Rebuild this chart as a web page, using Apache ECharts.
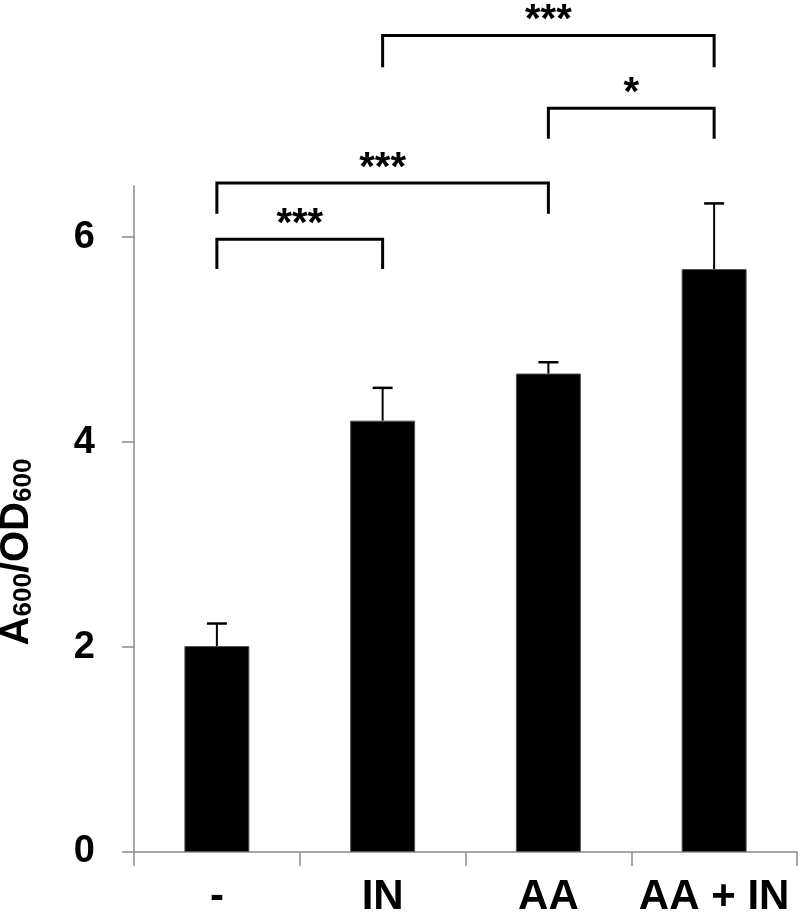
<!DOCTYPE html>
<html>
<head>
<meta charset="utf-8">
<script src="https://cdn.jsdelivr.net/npm/echarts@6/dist/echarts.min.js"></script>
<style>
html,body{margin:0;padding:0;background:#fff;}
#chart{width:800px;height:915px;}
</style>
</head>
<body>
<div id="chart"></div>
<script>
// ---- data ----
const categories = ['-', 'IN', 'AA', 'AA + IN'];
const means = [2.01, 4.21, 4.67, 5.69];
const errors = [0.22, 0.32, 0.11, 0.64];
const yTicks = [0, 2, 4, 6];
// significance brackets: [fromIndex, toIndex, lineValue, legValue]
const bracketFrom = [0, 0, 2, 1];
const bracketTo = [1, 2, 3, 3];
const bracketTop = [5.98, 6.53, 7.26, 7.97];
const bracketLeg = [5.69, 6.23, 6.96, 7.66];
const bracketLabels = ['***', '***', '*', '***'];

const FONT = '"Liberation Sans", Arial, sans-serif';
const chart = echarts.init(document.getElementById('chart'), null, {renderer: 'canvas'});

const errData = means.map((m, i) => [i, m, errors[i]]);
const bracketData = bracketFrom.map((f, i) => [f, bracketTo[i], bracketTop[i], bracketLeg[i]]);

chart.setOption({
  animation: false,
  backgroundColor: '#fff',
  grid: {left: 134, right: 3, top: 186, bottom: 63, containLabel: false, outerBoundsMode: 'none'},
  xAxis: {
    type: 'category',
    data: categories,
    boundaryGap: true,
    axisLine: {lineStyle: {color: '#8a8a8a', width: 1.5}},
    axisTick: {show: true, length: 14, alignWithLabel: false, lineStyle: {color: '#8a8a8a', width: 1.5}},
    axisLabel: {color: '#000', fontSize: 42, fontWeight: 'bold', fontFamily: FONT, margin: 24, interval: 0}
  },
  yAxis: {
    type: 'value',
    min: 0, max: 6.5, interval: 2,
    name: '{a|A}{s|600}{a|/OD}{s|600}',
    nameLocation: 'middle',
    nameRotate: 90,
    nameGap: 97,
    nameTextStyle: {
      padding: [0, 66, 0, 0],
      rich: {
        a: {fontSize: 40, fontWeight: 'bold', fontFamily: FONT, color: '#000', lineHeight: 42, verticalAlign: 'bottom'},
        s: {fontSize: 26, fontWeight: 'bold', fontFamily: FONT, color: '#000', lineHeight: 12, verticalAlign: 'bottom'}
      }
    },
    splitLine: {show: false},
    axisLine: {show: true, lineStyle: {color: '#8a8a8a', width: 1.5}},
    axisTick: {show: true, length: 12, customValues: yTicks, lineStyle: {color: '#8a8a8a', width: 1.5}},
    axisLabel: {customValues: yTicks, color: '#000', fontSize: 38, fontWeight: 'bold', fontFamily: FONT, margin: 39}
  },
  series: [
    {
      type: 'bar',
      data: means,
      barWidth: 65,
      itemStyle: {color: '#000', borderColor: '#555', borderWidth: 1},
      z: 2
    },
    {
      type: 'custom',
      data: errData,
      clip: false,
      z: 3,
      encode: {x: 0, y: 1},
      renderItem: function (params, api) {
        const i = api.value(0), m = api.value(1), e = api.value(2);
        const p0 = api.coord([i, m]);
        const p1 = api.coord([i, m + e]);
        return {
          type: 'group',
          children: [
            {type: 'line', shape: {x1: p0[0], y1: p0[1], x2: p1[0], y2: p1[1]}, style: {stroke: '#000', lineWidth: 2}},
            {type: 'line', shape: {x1: p1[0] - 10, y1: p1[1], x2: p1[0] + 10, y2: p1[1]}, style: {stroke: '#000', lineWidth: 2.5}}
          ]
        };
      }
    },
    {
      type: 'custom',
      data: bracketData,
      clip: false,
      z: 4,
      encode: {x: 0, y: 2},
      renderItem: function (params, api) {
        const a = api.value(0), b = api.value(1), t = api.value(2), l = api.value(3);
        const pa = api.coord([a, t]), pb = api.coord([b, t]);
        const la = api.coord([a, l]), lb = api.coord([b, l]);
        return {
          type: 'group',
          children: [
            {type: 'polyline', shape: {points: [la, pa, pb, lb]}, style: {stroke: '#000', lineWidth: 3, fill: null}},
            {type: 'text', style: {
              text: bracketLabels[params.dataIndex],
              x: (pa[0] + pb[0]) / 2, y: pa[1] + 6,
              align: 'center', verticalAlign: 'bottom',
              fontSize: 40, fontWeight: 'bold', fontFamily: FONT, fill: '#000'
            }}
          ]
        };
      }
    }
  ]
});
</script>
</body>
</html>
